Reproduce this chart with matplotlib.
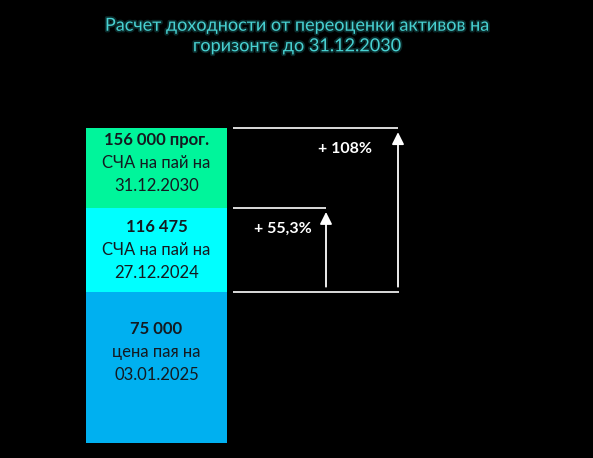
import matplotlib
matplotlib.use("Agg")
import matplotlib.pyplot as plt
import matplotlib.patheffects as pe

# stoimost' paya: tsena na start, SCHA sejchas, prognoz
levels = [75000, 116475, 156000]
level_titles = ["75 000", "116 475", "156 000 прог."]
level_captions = ["цена пая на", "СЧА на пай на", "СЧА на пай на"]
level_dates = ["03.01.2025", "27.12.2024", "31.12.2030"]
seg_colors = ["#00B0F0", "#00FFFF", "#00F59B"]
title = "Расчет доходности от переоценки активов на\nгоризонте до 31.12.2030"

W, H, DPI = 593, 458, 100
base_px = 443          # where zero sits, px from top
px_per = 315 / 156000  # px per rouble

plt.rcParams["font.family"] = ["Lato", "DejaVu Sans"]
fig = plt.figure(figsize=(W / DPI, H / DPI), dpi=DPI, facecolor="black")
ax = fig.add_axes([0, 0, 1, 1])
ax.set_facecolor("black")
ax.set_xlim(0, W)
ax.set_ylim(-(H - base_px) / px_per, base_px / px_per)
ax.axis("off")

bar_x, bar_w = 156.5, 141
bottom = 0
for i, top in enumerate(levels):
    ax.bar(bar_x, top - bottom, width=bar_w, bottom=bottom,
           color=seg_colors[i], linewidth=0)
    mid = (bottom + top) / 2
    shift = [15, 0, 5][i] * 0.72
    lines = [(level_titles[i], "bold", 23), (level_captions[i], "normal", 0),
             (level_dates[i], "normal", -23)]
    for txt, wt, dy in lines:
        ax.annotate(txt, (bar_x, mid), xytext=(0, dy * 0.72 + shift),
                    textcoords="offset points", ha="center", va="center",
                    fontsize=12, fontweight=wt, color="#141a20")
    bottom = top

# guide lines and growth arrows
start = levels[0]
ax.hlines(start, 233, 399, color="white", lw=1.2)
for lvl, xr, ax_x, lab_x in [(levels[1], 326, 326, 283),
                             (levels[2], 398, 398, 345)]:
    ax.hlines(lvl, 233, xr, color="white", lw=1.2)
    ax.annotate("", xy=(ax_x, lvl), xytext=(ax_x, start),
                arrowprops=dict(arrowstyle="-|>", color="white", lw=1.3,
                                shrinkA=3.5, shrinkB=3, mutation_scale=18))
    pct = (lvl / start - 1) * 100
    lab = "+ %.0f%%" % pct if pct >= 100 else ("+ %.1f%%" % pct).replace(".", ",")
    lab_y = lvl - 21 / px_per
    ax.text(lab_x, lab_y, lab, ha="center", va="center", fontsize=11.5,
            fontweight="bold", color="white")

fig.text(0.5, 1 - 36 / H, title, ha="center", va="center", fontsize=13,
         color="#48D1D2", linespacing=1.35,
         path_effects=[pe.withStroke(linewidth=2.5, foreground="#0a2a2a")])

fig.savefig("out.png", dpi=DPI, facecolor="black")
